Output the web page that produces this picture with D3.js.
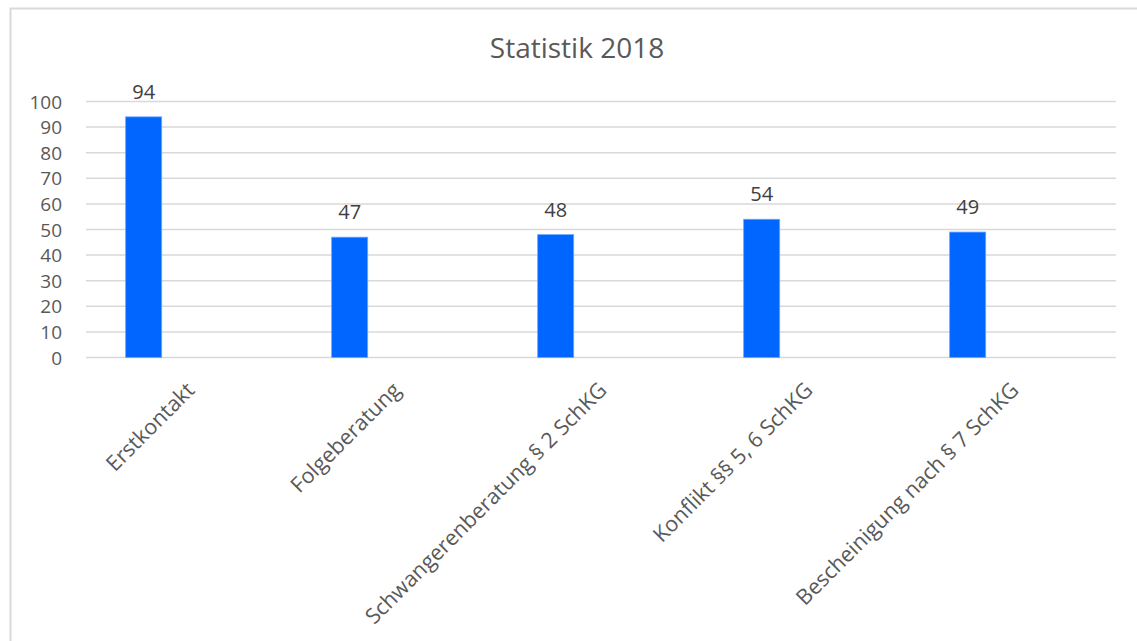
<!DOCTYPE html>
<html>
<head>
<meta charset="utf-8">
<script src="https://cdn.jsdelivr.net/npm/d3@7"></script>
<style>
  html, body { margin: 0; padding: 0; background: #fff; }
  svg { display: block; }
  text { font-family: "Open Sans", "Noto Sans", sans-serif; }
</style>
</head>
<body>
<svg id="chart" width="1137" height="641"></svg>
<script>
// Beratungsstatistik 2018
const title = "Statistik 2018";
const categories = [
  "Erstkontakt",
  "Folgeberatung",
  "Schwangerenberatung § 2 SchKG",
  "Konflikt §§ 5, 6 SchKG",
  "Bescheinigung nach § 7 SchKG"
];
const values = [94, 47, 48, 54, 49];
const yTicks = [0, 10, 20, 30, 40, 50, 60, 70, 80, 90, 100];

const W = 1137, H = 641;
const plot = { left: 86, right: 1116, top: 101.5, bottom: 357.5 };

const svg = d3.select("#chart");

// chart frame
svg.append("rect")
  .attr("x", 10.5).attr("y", 8.5)
  .attr("width", W + 10).attr("height", H + 10)
  .attr("fill", "#fff")
  .attr("stroke", "#d9d9d9").attr("stroke-width", 2);

const x = d3.scaleBand()
  .domain(categories)
  .range([plot.left, plot.right])
  .paddingInner(0).paddingOuter(0);

const y = d3.scaleLinear()
  .domain([0, 100])
  .range([plot.bottom, plot.top]);

// horizontal gridlines
svg.append("g")
  .selectAll("line")
  .data(yTicks)
  .join("line")
  .attr("x1", plot.left).attr("x2", plot.right)
  .attr("y1", d => y(d)).attr("y2", d => y(d))
  .attr("stroke", "#d9d9d9").attr("stroke-width", 1.5);

// y axis labels
const yAxis = d3.axisLeft(y).tickValues(yTicks).tickSize(0).tickPadding(0);
const gy = svg.append("g")
  .attr("transform", `translate(${plot.left - 24},0)`)
  .call(yAxis);
gy.select(".domain").remove();
gy.selectAll("text")
  .attr("fill", "#595959")
  .style("font-size", "19px")
  .attr("dy", "0.35em");

// bars sit left of the category centre (single series of a clustered layout)
const barW = x.bandwidth() * 0.175;
const barOffset = -x.bandwidth() * 0.22;
const cx = d => x(d) + x.bandwidth() / 2;

svg.append("g")
  .selectAll("rect")
  .data(categories)
  .join("rect")
  .attr("x", (d) => cx(d) + barOffset - barW / 2)
  .attr("y", (d, i) => y(values[i]))
  .attr("width", barW)
  .attr("height", (d, i) => y(0) - y(values[i]))
  .attr("fill", "#0066ff")
  .attr("stroke", "#6aa6ff")
  .attr("stroke-width", 0.8);

// value labels
svg.append("g")
  .selectAll("text")
  .data(categories)
  .join("text")
  .attr("x", d => cx(d) + barOffset)
  .attr("y", (d, i) => y(values[i]) - 18)
  .attr("text-anchor", "middle")
  .attr("fill", "#404040")
  .style("font-size", "20px")
  .text((d, i) => values[i]);

// rotated category labels
const xAxis = d3.axisBottom(x).tickSize(0).tickPadding(0);
const gx = svg.append("g")
  .attr("transform", `translate(0,${plot.bottom})`)
  .call(xAxis);
gx.select(".domain").remove();
gx.selectAll("text")
  .attr("fill", "#595959")
  .style("font-size", "21.5px")
  .attr("text-anchor", "end")
  .attr("dy", 0)
  .attr("transform", "translate(7,34) rotate(-45)");

// title
svg.append("text")
  .attr("x", 577).attr("y", 58)
  .attr("text-anchor", "middle")
  .attr("fill", "#595959")
  .style("font-size", "28px")
  .text(title);
</script>
</body>
</html>
